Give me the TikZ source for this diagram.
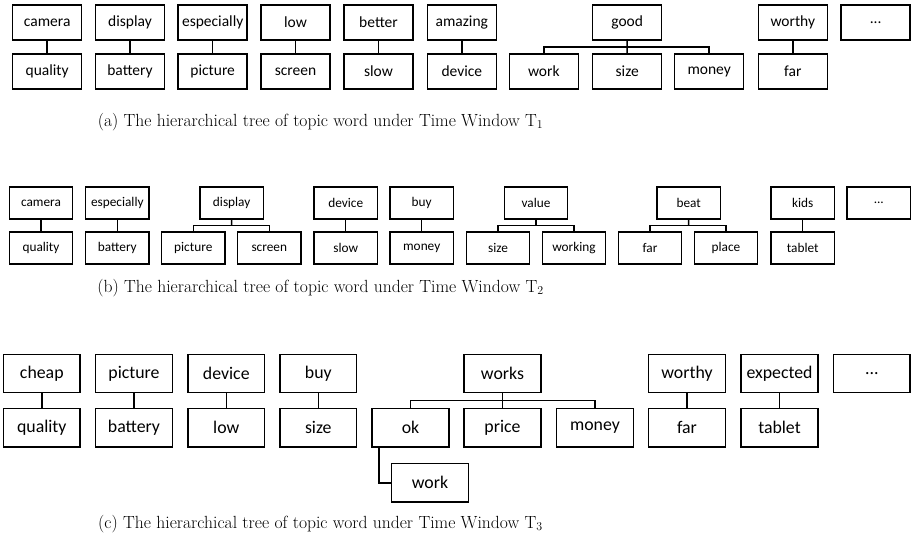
\documentclass[tikz,border=0pt]{standalone}
\usepackage{fontspec}
\setsansfont{Carlito}
\usetikzlibrary{calc}
\tikzset{
  wbox/.style={draw, line width=1.5pt, fill=white, inner sep=0pt, font=\sffamily},
  boxa/.style={wbox, minimum width=69pt, minimum height=35pt, font=\sffamily\fontsize{15.5}{18}\selectfont},
  boxb/.style={wbox, minimum width=63.3pt, minimum height=32pt, font=\sffamily\fontsize{13.3}{16}\selectfont},
  boxc/.style={wbox, minimum width=76.7pt, minimum height=38.4pt, font=\sffamily\fontsize{17.8}{21}\selectfont},
  link/.style={line width=1.5pt},
  capt/.style={font=\fontsize{17.6}{20}\selectfont, inner sep=0pt}
}
\begin{document}
\begin{tikzpicture}[x=1pt,y=-1pt]
\useasboundingbox (0,0) rectangle (915,543);
% ---------- row (a)
\def\ta{22.5}\def\ba{71.5}
\node[boxa] (a1t) at (47.2,\ta) {camera};
\node[boxa] (a1b) at (47.2,\ba) {quality};
\node[boxa] (a2t) at (130,\ta) {display};
\node[boxa] (a2b) at (130,\ba) {battery};
\node[boxa] (a3t) at (212.7,\ta) {especially};
\node[boxa] (a3b) at (212.7,\ba) {picture};
\node[boxa] (a4t) at (295.5,\ta) {low};
\node[boxa] (a4b) at (295.5,\ba) {screen};
\node[boxa] (a5t) at (378.5,\ta) {better};
\node[boxa] (a5b) at (378.5,\ba) {slow};
\node[boxa] (a6t) at (461.8,\ta) {amazing};
\node[boxa] (a6b) at (461.8,\ba) {device};
\node[boxa] (a7t) at (627.2,\ta) {good};
\node[boxa] (a7l) at (543.8,\ba) {work};
\node[boxa] (a7m) at (627.2,\ba) {size};
\node[boxa] (a7r) at (709.2,\ba) {money};
\node[boxa] (a8t) at (792.8,\ta) {worthy};
\node[boxa] (a8b) at (792.8,\ba) {far};
\node[boxa] (a9t) at (875.7,\ta) {...};
\foreach \i in {1,...,6,8} {\draw[link] (a\i t.south) -- (a\i b.north);}
\coordinate (a7j) at ($(a7t.south)!0.5!(a7m.north)$);
\draw[link] (a7t.south) -- (a7j) -- (a7m.north);
\draw[link] (a7l.north) |- (a7j) -| (a7r.north);
\node[capt] (capa) at (320.5,122) {(a) The hierarchical tree of topic word under Time Window $\mathrm{T}_1$};
% ---------- row (b)
\def\tb{203.2}\def\bb{248}
\node[boxb] (b1t) at (41,\tb) {camera};
\node[boxb] (b1b) at (41,\bb) {quality};
\node[boxb] (b2t) at (117.3,\tb) {especially};
\node[boxb] (b2b) at (117.3,\bb) {battery};
\node[boxb] (b3t) at (231.7,\tb) {display};
\node[boxb] (b3l) at (193.3,\bb) {picture};
\node[boxb] (b3r) at (269.3,\bb) {screen};
\node[boxb] (b4t) at (345.7,\tb) {device};
\node[boxb] (b4b) at (345.7,\bb) {slow};
\node[boxb] (b5t) at (421.7,\tb) {buy};
\node[boxb] (b5b) at (421.7,\bb) {money};
\node[boxb] (b6t) at (536,\tb) {value};
\node[boxb] (b6l) at (498,\bb) {size};
\node[boxb] (b6r) at (574,\bb) {working};
\node[boxb] (b7t) at (688.7,\tb) {beat};
\node[boxb] (b7l) at (650,\bb) {far};
\node[boxb] (b7r) at (726,\bb) {place};
\node[boxb] (b8t) at (802.7,\tb) {kids};
\node[boxb] (b8b) at (802.7,\bb) {tablet};
\node[boxb] (b9t) at (878.8,\tb) {...};
\foreach \i in {1,2,4,5,8} {\draw[link] (b\i t.south) -- (b\i b.north);}
\foreach \i in {3,6,7} {
  \coordinate (b\i j) at ($(b\i t.south)!0.5!(b\i t.south |- b\i l.north)$);
  \draw[link] (b\i t.south) -- (b\i j);
  \draw[link] (b\i l.north) |- (b\i j) -| (b\i r.north);
}
\node[capt] (capb) at (320.5,288) {(b) The hierarchical tree of topic word under Time Window $\mathrm{T}_2$};
% ---------- row (c)
\def\tc{373.5}\def\bc{427.8}
\node[boxc] (c1t) at (41.8,\tc) {cheap};
\node[boxc] (c1b) at (41.8,\bc) {quality};
\node[boxc] (c2t) at (134,\tc) {picture};
\node[boxc] (c2b) at (134,\bc) {battery};
\node[boxc] (c3t) at (226.3,\tc) {device};
\node[boxc] (c3b) at (226.3,\bc) {low};
\node[boxc] (c4t) at (318.3,\tc) {buy};
\node[boxc] (c4b) at (318.3,\bc) {size};
\node[boxc] (c5t) at (502.5,\tc) {works};
\node[boxc] (c5l) at (410.5,\bc) {ok};
\node[boxc] (c5m) at (502.5,\bc) {price};
\node[boxc] (c5r) at (595,\bc) {money};
\node[boxc] (c5w) at (430,482.8) {work};
\node[boxc] (c6t) at (687,\tc) {worthy};
\node[boxc] (c6b) at (687,\bc) {far};
\node[boxc] (c7t) at (779.5,\tc) {expected};
\node[boxc] (c7b) at (779.5,\bc) {tablet};
\node[boxc] (c8t) at (871.8,\tc) {...};
\foreach \i in {1,2,3,4,6,7} {\draw[link] (c\i t.south) -- (c\i b.north);}
\coordinate (c5j) at ($(c5t.south)!0.5!(c5m.north)$);
\draw[link] (c5t.south) -- (c5j) -- (c5m.north);
\draw[link] (c5l.north) |- (c5j) -| (c5r.north);
\draw[link] ([xshift=7.7pt]c5l.south west) |- (c5w.west);
\node[capt] (capc) at (320.5,524) {(c) The hierarchical tree of topic word under Time Window $\mathrm{T}_3$};
\end{tikzpicture}
\end{document}
